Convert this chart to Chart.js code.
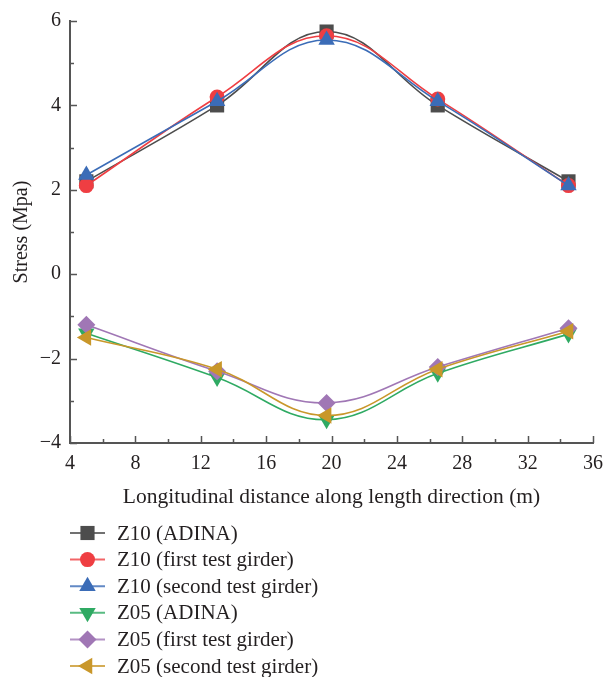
<!DOCTYPE html>
<html lang="en">
<head>
  <meta charset="UTF-8">
  <title>Stress along girder</title>
  <script src="https://cdn.jsdelivr.net/npm/chart.js"></script>
  <style>
    html, body { margin: 0; padding: 0; background: #fff; }
    canvas { display: block; }
  </style>
</head>
<body>
  <canvas id="stressChart" width="612" height="677"></canvas>

  <script>
    // measuring points along the girder (m)
    const positions = [5, 13, 19.7, 26.5, 34.5];

    const z10Adina = [2.2, 4.0, 5.75, 4.0, 2.2];
    const z10First = [2.1, 4.2, 5.65, 4.15, 2.1];
    const z10Second = [2.35, 4.1, 5.55, 4.1, 2.1];
    const z05Adina = [-1.4, -2.45, -3.45, -2.35, -1.42];
    const z05First = [-1.2, -2.3, -3.05, -2.2, -1.28];
    const z05Second = [-1.5, -2.25, -3.35, -2.25, -1.35];

    const seriesNames = [
      'Z10 (ADINA)',
      'Z10 (first test girder)',
      'Z10 (second test girder)',
      'Z05 (ADINA)',
      'Z05 (first test girder)',
      'Z05 (second test girder)'
    ];
    const xTicks = [4, 8, 12, 16, 20, 24, 28, 32, 36];
    const yTicks = [-4, -2, 0, 2, 4, 6];

    const serif = '"Liberation Serif", "DejaVu Serif", serif';
    const textColor = '#231f20';
    const axisColor = '#555555';

    const styles = [
      { color: '#4d4d4d', point: 'rect', rot: 0, r: 10 },
      { color: '#ef3e42', point: 'circle', rot: 0, r: 7.5 },
      { color: '#3b6cb7', point: 'triangle', rot: 0, r: 9.5 },
      { color: '#2faa63', point: 'triangle', rot: 180, r: 9.5 },
      { color: '#a077b5', point: 'rectRot', rot: 0, r: 9 },
      { color: '#c9972a', point: 'triangle', rot: 270, r: 9.5 }
    ];
    const allValues = [z10Adina, z10First, z10Second, z05Adina, z05First, z05Second];

    const datasets = allValues.map((vals, i) => ({
      label: seriesNames[i],
      data: vals.map((v, k) => ({ x: positions[k], y: v })),
      borderColor: styles[i].color,
      backgroundColor: styles[i].color,
      borderWidth: 1.6,
      pointStyle: styles[i].point,
      pointRotation: styles[i].rot,
      pointRadius: styles[i].r,
      pointHoverRadius: styles[i].r,
      pointBorderWidth: 0,
      tension: 0.4,
      fill: false,
      order: 5 - i
    }));

    // inward major/minor tick marks
    const tickMarks = {
      id: 'tickMarks',
      afterDraw(chart) {
        const { ctx, chartArea, scales } = chart;
        ctx.save();
        ctx.strokeStyle = axisColor;
        ctx.lineWidth = 1.5;
        ctx.beginPath();
        for (let v = xTicks[0]; v <= xTicks[xTicks.length - 1]; v += 2) {
          const px = Math.round(scales.x.getPixelForValue(v)) + 0.5;
          const len = v % 4 === 0 ? 7 : 4;
          ctx.moveTo(px, chartArea.bottom);
          ctx.lineTo(px, chartArea.bottom - len);
        }
        for (let v = yTicks[0]; v <= yTicks[yTicks.length - 1]; v += 1) {
          const py = Math.round(scales.y.getPixelForValue(v)) + 0.5;
          const len = v % 2 === 0 ? 7 : 4;
          ctx.moveTo(chartArea.left, py);
          ctx.lineTo(chartArea.left + len, py);
        }
        ctx.stroke();
        ctx.restore();
      }
    };

    // legend stacked under the x axis title
    const stackedLegend = {
      id: 'stackedLegend',
      afterDraw(chart) {
        const ctx = chart.ctx;
        ctx.save();
        ctx.font = '21px ' + serif;
        ctx.textBaseline = 'middle';
        ctx.fillStyle = textColor;
        seriesNames.forEach((name, i) => {
          const y = 533 + i * 26.6;
          const st = styles[i];
          ctx.globalAlpha = 0.8;
          ctx.strokeStyle = st.color;
          ctx.lineWidth = 2;
          ctx.beginPath();
          ctx.moveTo(70, y);
          ctx.lineTo(105, y);
          ctx.stroke();
          ctx.globalAlpha = 1;
          ctx.fillStyle = st.color;
          Chart.helpers.drawPoint(ctx, {
            pointStyle: st.point,
            rotation: st.rot,
            radius: st.r,
            borderWidth: 0
          }, 87.5, y);
          ctx.fillStyle = textColor;
          ctx.fillText(name, 117, y + 1);
        });
        ctx.restore();
      }
    };

    const fmt = v => (v < 0 ? '\u2212' + Math.abs(v) : String(v));

    new Chart(document.getElementById('stressChart'), {
      type: 'line',
      data: { datasets: datasets },
      plugins: [tickMarks, stackedLegend],
      options: {
        responsive: false,
        animation: false,
        devicePixelRatio: 1,
        layout: { padding: { left: 0, top: 16, right: 14, bottom: 0 } },
        plugins: {
          legend: { display: false },
          tooltip: { enabled: false }
        },
        scales: {
          x: {
            type: 'linear',
            min: 4,
            max: 36,
            afterFit: s => { s.height = 234; },
            afterBuildTicks: s => { s.ticks = xTicks.map(v => ({ value: v })); },
            grid: { display: false, drawTicks: false },
            border: { display: true, color: axisColor, width: 2 },
            ticks: {
              padding: 9,
              color: textColor,
              font: { family: serif, size: 20 },
              maxRotation: 0,
              callback: fmt
            },
            title: {
              display: true,
              text: 'Longitudinal distance along length direction (m)',
              color: textColor,
              font: { family: serif, size: 21.5 },
              padding: { top: 0, bottom: 167 }
            }
          },
          y: {
            type: 'linear',
            min: -4,
            max: 6,
            afterFit: s => { s.width = 70; },
            afterBuildTicks: s => { s.ticks = yTicks.map(v => ({ value: v })); },
            grid: { display: false, drawTicks: false },
            border: { display: true, color: axisColor, width: 2 },
            ticks: {
              padding: 9,
              color: textColor,
              font: { family: serif, size: 20 },
              callback: fmt
            },
            title: {
              display: true,
              text: 'Stress (Mpa)',
              color: textColor,
              font: { family: serif, size: 20 },
              padding: { top: 10, bottom: 0 }
            }
          }
        }
      }
    });
  </script>
</body>
</html>
